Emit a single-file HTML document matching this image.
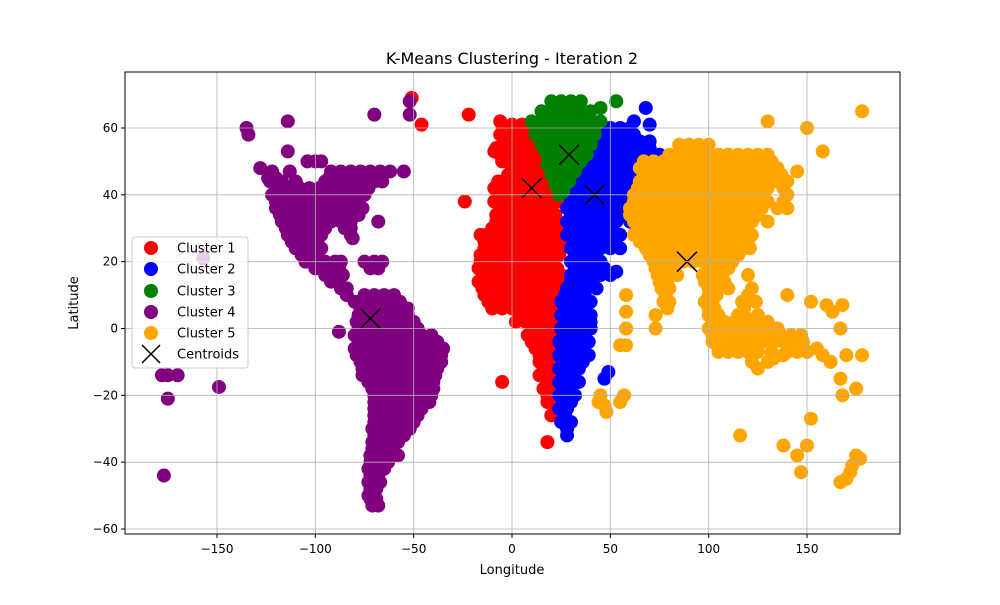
<!DOCTYPE html>
<html><head><meta charset="utf-8"><style>
body{margin:0;background:#fff;font-family:"Liberation Sans","DejaVu Sans",sans-serif}
</style></head><body>
<svg id="chart" width="1000" height="600" xmlns="http://www.w3.org/2000/svg" style="font-family:'DejaVu Sans','Liberation Sans',sans-serif">
<rect width="1000" height="600" fill="#fff"/>
<g id="marks"></g>
<g id="grid"></g>
<rect x="125" y="72" width="775" height="462" fill="none" stroke="#000" stroke-width="1"/>
<g id="ticks"></g>
<text x="512" y="64" text-anchor="middle" font-size="16">K-Means Clustering - Iteration 2</text>
<text x="512" y="574" text-anchor="middle" font-size="13">Longitude</text>
<text x="78" y="303" text-anchor="middle" font-size="13" transform="rotate(-90 78 303)">Latitude</text>
<g id="legend"></g>
</svg>
<script>
const xTicks=[-150,-100,-50,0,50,100,150];
const yTicks=[-60,-40,-20,0,20,40,60];
const clusterNames=["Cluster 1","Cluster 2","Cluster 3","Cluster 4","Cluster 5"];
const clusterColors=["red","blue","green","purple","orange"];
const c1Rows=[[61,[-5,0,5,10]],[58,[-6,0,5,10,15]],[54,[-8,-3,2,7,12,17,22]],[50,[-5,0,5,10,15,20,24]],[46,[-2,3,8,13,18,22]],[42,[-9,-4,1,6,11,16,21]],[38,[-9,-4,1,6,11,16,21,24]],[34,[-8,-3,2,7,12,17,22]],[30,[-10,-5,0,5,10,15,20,25]],[26,[-14,-10,-5,0,5,10,15,20,25]],[22,[-16,-11,-6,-1,4,9,14,19,24]],[18,[-17,-12,-7,-2,3,8,13,18,23]],[14,[-17,-12,-7,-2,3,8,13,18,23]],[10,[-14,-9,-4,1,6,11,16,21]],[6,[-10,-5,0,5,10,15,20]],[2,[2,7,12,17,22]],[-2,[8,12,17,22]],[-6,[12,16,20]],[-10,[14,18,22]],[-14,[14,18,22]],[-18,[16,20]],[-22,[18,21]],[-26,[20]]];
const c1Mid=[[56,[-4,2,7,12,17]],[52,[-6,-1,4,9,14,19]],[48,[0,5,10,15,20]],[44,[-7,-2,3,8,13,18]],[40,[-7,-2,3,8,13,18,22]],[36,[-6,-1,4,9,14,19]],[32,[-8,-3,2,7,12,17,22]],[28,[-12,-7,-2,3,8,13,18,23]],[24,[-14,-8,-3,2,7,12,17,22]],[20,[-16,-9,-4,1,6,11,16,21]],[16,[-15,-10,-5,0,5,10,15,20,25]],[12,[-15,-10,-5,0,5,10,15,20,25]],[8,[-12,-7,-2,3,8,13,18,23]],[4,[4,9,14,19,24]],[0,[10,15,20]],[-4,[10,14,19]],[-8,[14,18]],[-12,[16,20]],[-16,[18,22]],[-20,[18]]];
const c1Extra=[[-22,64],[-6,62],[-46,61],[-51,69],[-24,38],[-5,-16],[18,-34],[23,24],[-16,28],[-9,53],[-13,28]];
const c2Rows=[[60,[30,35,40,45,50,55,60]],[56,[30,35,40,45,50,55,60,65,70]],[52,[32,37,42,47,52,57,62,67,72,75]],[48,[30,35,40,45,50,55,60,65,70,75]],[44,[30,35,40,45,50,55,60,65,70]],[40,[30,35,40,45,50,55,60,65,70]],[36,[28,33,38,43,48,53,58,63,68]],[32,[28,33,38,43,48,53,60,68]],[28,[28,33,38,43,48,55]],[24,[30,35,40,45,50,55]],[20,[30,35,40,45]],[16,[30,35,40,45,50]],[12,[28,33,38,43]],[8,[25,30,35,40]],[4,[25,30,35,40]],[0,[25,30,35,40]],[-4,[24,29,34,39]],[-8,[24,29,34,39]],[-12,[24,29,34]],[-16,[24,29,34]],[-20,[24,28,32]],[-24,[24,28]],[-28,[25,30]],[-32,[28]]];
const c2Mid=[[58,[32,37,42,47,52,57,62]],[54,[35,40,45,50,55,60,65,70]],[50,[32,37,42,47,52,57,62,67,72]],[46,[32,37,42,47,52,57,62,67,72]],[42,[32,37,42,47,52,57,62,67]],[38,[30,35,40,45,50,55,60,65]],[34,[30,35,40,45,50,55,62]],[30,[30,35,40,45,50]],[26,[32,37,42,47,52]],[22,[32,37,42]],[18,[32,37,42,47]],[14,[30,35,40]],[10,[27,32,37]],[6,[27,32,37]],[2,[27,32,37,40]],[-2,[26,31,36]],[-6,[26,31,36]],[-10,[26,31,36]],[-14,[26,31]],[-18,[26,30]],[-22,[26,30]],[-26,[27]],[-30,[28]]];
const c2Extra=[[68,66],[70,61],[62,62],[49,-13],[47,-15],[53,17]];
const c3Rows=[[68,[20,25,30,35]],[65,[15,20,25,30,35,40]],[62,[10,15,20,25,30,35,40,45]],[58,[12,17,22,27,32,37,42]],[55,[15,20,25,30,35,40]],[52,[18,23,28,33,38]],[49,[18,23,28,33]],[46,[20,25,30]],[43,[22,27]],[40,[24]]];
const c3Mid=[[60,[12,17,22,27,32,37,42]],[56,[15,20,25,30,35,40]],[53,[17,22,27,32,37]],[50,[20,25,30,35]],[47,[22,27,32]],[44,[24,29]],[41,[26]]];
const c3Extra=[[53,68],[45,66]];
const c4Rows=[[47,[-122,-92,-87,-82,-77,-72,-67,-62]],[44,[-123,-117,-110,-95,-90,-85,-80,-75,-70,-66]],[40,[-122,-115,-110,-105,-100,-95,-90,-85,-80,-75]],[36,[-120,-115,-110,-105,-100,-95,-90,-85,-80,-76]],[32,[-117,-112,-107,-102,-97,-92,-87,-82]],[28,[-114,-110,-105,-100,-97,-82]],[24,[-110,-105,-100,-97]],[20,[-105,-100,-95,-90,-87,-75,-70,-66]],[16,[-95,-90,-86]],[12,[-87,-84]],[8,[-80]],[10,[-75,-70,-65,-60]],[6,[-77,-72,-67,-62,-57,-53]],[2,[-79,-75,-70,-65,-60,-55,-50]],[-2,[-80,-76,-71,-66,-61,-56,-51,-46,-41]],[-6,[-80,-77,-72,-67,-62,-57,-52,-47,-42,-37,-35]],[-10,[-77,-73,-68,-63,-58,-53,-48,-43,-38,-36]],[-14,[-76,-72,-67,-62,-57,-52,-47,-42,-39]],[-18,[-71,-67,-62,-57,-52,-47,-42,-40]],[-22,[-70,-66,-61,-56,-51,-46,-42]],[-26,[-70,-66,-61,-56,-51,-48]],[-30,[-71,-67,-62,-57,-52]],[-34,[-71,-67,-62,-58]],[-38,[-72,-68,-63,-58]],[-42,[-73,-69,-65]],[-46,[-73,-69,-67]],[-50,[-73,-70]],[-53,[-71,-68]]];
const c4Mid=[[45,[-120,-93,-88,-83,-78,-73,-68]],[42,[-120,-113,-108,-103,-98,-93,-88,-83,-78,-73]],[38,[-120,-113,-108,-103,-98,-93,-88,-83,-78]],[34,[-118,-113,-108,-103,-98,-93,-88,-83,-78]],[30,[-115,-110,-105,-100,-95,-85,-82]],[26,[-112,-108,-103,-99]],[22,[-107,-102,-99]],[18,[-100,-96,-92,-88,-72,-68]],[14,[-92,-88]],[10,[-84]],[8,[-77,-72,-67,-62,-57]],[4,[-78,-73,-68,-63,-58,-53]],[0,[-78,-73,-68,-63,-58,-53,-48]],[-4,[-78,-73,-68,-63,-58,-53,-48,-43,-38]],[-8,[-79,-75,-70,-65,-60,-55,-50,-45,-40,-36]],[-12,[-76,-71,-66,-61,-56,-51,-46,-41,-38]],[-16,[-73,-69,-64,-59,-54,-49,-44,-40]],[-20,[-70,-65,-60,-55,-50,-45,-41]],[-24,[-70,-64,-59,-54,-49,-46]],[-28,[-70,-64,-59,-54,-50]],[-32,[-70,-65,-60,-55]],[-36,[-71,-66,-61]],[-40,[-72,-67,-63]],[-44,[-72,-68]],[-48,[-72,-69]],[-51,[-72,-69]]];
const c4Extra=[[-135,60],[-134,58],[-114,62],[-100,50],[-97,50],[-128,48],[-124,45],[-114,53],[-113,47],[-104,50],[-157,21],[-175,-14],[-170,-14],[-178,-14],[-175,-21],[-149,-17.5],[-177,-44],[-70,64],[-52,68],[-52,64],[-68,32],[-55,47],[-88,-1],[-81,27]];
const c5Rows=[[55,[85,90,95,100]],[52,[80,85,90,95,100,105,110,115,120,125,130]],[48,[65,70,75,80,85,90,95,100,105,110,115,120,125,130,135]],[44,[65,70,75,80,85,90,95,100,105,110,115,120,125,130,135,140]],[40,[62,67,72,77,82,87,92,97,102,107,112,117,122,127,140]],[36,[60,65,70,75,80,85,90,95,100,105,110,115,120,127,135,140]],[32,[62,67,72,77,82,87,92,97,102,107,112,117,122,130]],[28,[62,67,72,77,82,87,92,97,102,107,112,117,122]],[24,[68,73,78,83,88,93,98,103,108,113,118,121]],[20,[72,77,82,87,92,97,102,107,112]],[16,[74,79,84,97,102,107,120]],[12,[76,80,100,105,110,122]],[8,[77,80,98,102,117,124]],[4,[100,105,115,118,125]],[0,[100,105,110,115,120,125,130,135]],[-4,[102,107,112,117,122,127,133,138,143,148]],[-7,[105,110,115,120,125,132,140,145,150]]];
const c5Mid=[[50,[67,72,77,82,87,92,97,102,107,112,117,122,127,132]],[46,[67,72,77,82,87,92,97,102,107,112,117,122,127,132,137]],[42,[64,69,74,79,84,89,94,99,104,109,114,119,124,130,138]],[38,[62,67,72,77,82,87,92,97,102,107,112,117,122,130,138]],[34,[60,65,70,75,80,85,90,95,100,105,110,115,120,125]],[30,[64,69,74,79,84,89,94,99,104,109,114,119]],[26,[65,70,75,80,85,90,95,100,105,110,115,120]],[22,[70,75,80,85,90,95,100,105,110,115]],[18,[73,77,82,100,105,110]],[14,[75,79,98,103,108]],[10,[78,100,104,120]],[6,[79,100,103,118]],[2,[102,108,113,118,124,130]],[-2,[102,107,112,117,122,127,132,137,142,147]]];
const c5Extra=[[58,10],[58,5],[58,0],[58,-5],[73,4],[73,0],[130,62],[150,60],[158,53],[178,65],[145,47],[55,-22],[57,-20],[55,-5],[116,-32],[138,-35],[145,-38],[147,-43],[150,-35],[152,-27],[152,8],[160,7],[168,7],[163,5],[167,0],[170,-8],[178,-8],[175,-18],[167,-15],[168,-20],[167,-46],[170,-45],[173,-41],[175,-38],[177,-39],[172,-43],[162,-10],[158,-8],[155,-6],[140,10],[125,-12],[130,-10],[122,-10],[138,-8],[133,-9],[45,-20],[47,-23],[48,-25],[44,-22]];
const centroidLon=[10,42,29,-72,89];
const centroidLat=[42,40,52,3,20];

const X=v=>512+v*(295/150);
const Y=v=>328.5-v*(401/120);
const NS="http://www.w3.org/2000/svg";
function mk(tag,attrs,parent){const e=document.createElementNS(NS,tag);for(const k in attrs)e.setAttribute(k,attrs[k]);parent.appendChild(e);return e;}
const grid=document.getElementById('grid'),ticks=document.getElementById('ticks'),marks=document.getElementById('marks'),legend=document.getElementById('legend');
xTicks.forEach(t=>{
  const l=mk('line',{x1:X(t),x2:X(t),y1:72,y2:534,stroke:'#b0b0b0','stroke-width':0.8},grid);
  
  
  mk('line',{x1:X(t),x2:X(t),y1:534,y2:538,stroke:'#000'},ticks);
  const tx=mk('text',{x:X(t),y:553,'text-anchor':'middle','font-size':12},ticks);tx.textContent=t===0?'0':(t<0?'\u2212'+(-t):t);
  
  
});
yTicks.forEach(t=>{
  const l=mk('line',{x1:125,x2:900,y1:Y(t),y2:Y(t),stroke:'#b0b0b0','stroke-width':0.8},grid);
  
  
  mk('line',{x1:121,x2:125,y1:Y(t),y2:Y(t),stroke:'#000'},ticks);
  const tx=mk('text',{x:118,y:Y(t)+4,'text-anchor':'end','font-size':12},ticks);tx.textContent=t===0?'0':(t<0?'\u2212'+(-t):t);
  
  
});
const clusters=[[c1Rows,c1Mid,c1Extra],[c2Rows,c2Mid,c2Extra],[c3Rows,c3Mid,c3Extra],[c4Rows,c4Mid,c4Extra],[c5Rows,c5Mid,c5Extra]];
clusters.forEach((c,i)=>{
  const g=mk('g',{fill:clusterColors[i]},marks);
  
  
  const pts=[];
  c[0].forEach(r=>r[1].forEach(lon=>pts.push([lon,r[0]])));
  c[1].forEach(r=>r[1].forEach(lon=>pts.push([lon,r[0]])));
  c[2].forEach(p=>pts.push(p));
  pts.forEach(p=>{
    const ci=mk('circle',{cx:X(p[0]),cy:Y(p[1]),r:7},g);
    
    
  });
});
centroidLon.forEach((lon,i)=>{
  const cx=X(lon),cy=Y(centroidLat[i]),s=10;
  const p=mk('path',{d:`M${cx-s},${cy-s}L${cx+s},${cy+s}M${cx-s},${cy+s}L${cx+s},${cy-s}`,stroke:'#000','stroke-width':1.5},marks);
  
  
});
const lb=mk('rect',{x:132,y:237,width:116,height:131,rx:3,fill:'#fff','fill-opacity':0.8,stroke:'#ccc'},legend);


const ly=[248,269,291,312,333,354];
clusterNames.forEach((n,i)=>{
  const ci=mk('circle',{cx:151,cy:ly[i],r:7,fill:clusterColors[i]},legend);
  
  
  const t=mk('text',{x:177,y:ly[i]+4.5,'font-size':13},legend);t.textContent=n;
  
  
});
{const cx=151,cy=ly[5],s=9;
const p=mk('path',{d:`M${cx-s},${cy-s}L${cx+s},${cy+s}M${cx-s},${cy+s}L${cx+s},${cy-s}`,stroke:'#000','stroke-width':1.5},legend);


const t=mk('text',{x:177,y:ly[5]+4.5,'font-size':13},legend);t.textContent='Centroids';

}
</script>
</body></html>
